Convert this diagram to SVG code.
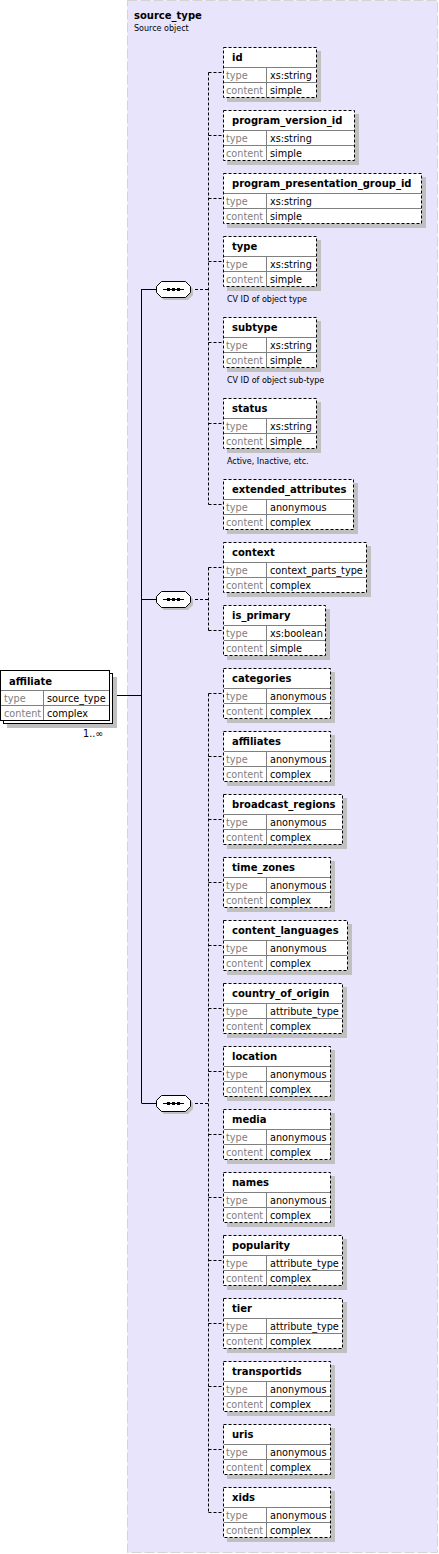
<svg xmlns="http://www.w3.org/2000/svg" width="439" height="1554" viewBox="0 0 439 1554">
<style>
text{font-family:"DejaVu Sans",Verdana,sans-serif;font-size:9.7px;fill:#000}
.t{font-weight:bold;font-size:10px}
.l{fill:#808080}
.d{font-size:8px}
.sh{fill:#c0c0c0}
.box{fill:#fff;stroke:none}
.sep{stroke:#808080;stroke-width:1;fill:none}
.dash{fill:none;stroke:#000;stroke-width:1;stroke-dasharray:3 2}
.cd{fill:none;stroke:#000;stroke-width:1;stroke-dasharray:3 2}
.cs{fill:none;stroke:#000;stroke-width:1}
</style>
<defs>
<g id="seq">
<polygon class="sh" points="8,-5 32,-5 37,0 37,6 32,11 8,11 3,6 3,0"/>
<polygon fill="#fff" stroke="#000" points="5.5,-7.5 29.5,-7.5 34.5,-2.5 34.5,3.5 29.5,8.5 5.5,8.5 0.5,3.5 0.5,-2.5"/>
<path d="M7 0.5H28" stroke="#000"/>
<rect x="11" y="-1" width="3" height="3"/>
<rect x="16" y="-1" width="3" height="3"/>
<rect x="21" y="-1" width="3" height="3"/>
</g>
</defs>
<rect x="127.5" y="0.5" width="310" height="1552" fill="#e8e4fc" stroke="#d4d4d4" stroke-dasharray="10 3"/>
<g id="source_type">
<text class="t" x="134" y="19">source_type</text>
<text class="d" x="134" y="31">Source object</text>
</g>
<g id="connectors">
<path class="cs" d="M109 695.5H141.5M141.5 289V1103M141.5 289.5H156M141.5 599.5H156M141.5 1103.5H156"/>
<path class="cd" d="M190 289.5H208.5M208.5 72.5V504.5"/>
<path class="cd" d="M208.5 72.5H223M208.5 135.5H223M208.5 198.5H223M208.5 261.5H223M208.5 342.5H223M208.5 423.5H223M208.5 504.5H223"/>
<path class="cd" d="M190 599.5H208.5M208.5 567.5V630.5M208.5 567.5H223M208.5 630.5H223"/>
<path class="cd" d="M190 1103.5H208.5M208.5 693.5V1512.5"/>
<path class="cd" d="M208.5 693.5H223M208.5 756.5H223M208.5 819.5H223M208.5 882.5H223M208.5 945.5H223M208.5 1008.5H223M208.5 1071.5H223M208.5 1134.5H223M208.5 1197.5H223M208.5 1260.5H223M208.5 1323.5H223M208.5 1386.5H223M208.5 1449.5H223M208.5 1512.5H223"/>
</g>
<g id="seq1"><use href="#seq" x="156" y="289"/></g>
<g id="seq2"><use href="#seq" x="156" y="599"/></g>
<g id="seq3"><use href="#seq" x="156" y="1103"/></g>
<g id="affiliate">
<rect class="sh" x="7" y="677" width="110" height="51"/>
<rect x="3.5" y="673.5" width="109" height="50" fill="#fff" stroke="#000"/>
<rect x="0.5" y="670.5" width="109" height="50" fill="#fff" stroke="#000"/>
<path class="sep" d="M1 690.5H109M1 705.5H109M43.5 691V720"/>
<text class="t" x="9" y="685">affiliate</text>
<text class="l" x="4" y="702">type</text>
<text x="47" y="702">source_type</text>
<text class="l" x="4" y="717">content</text>
<text x="47" y="717">complex</text>
<text x="83" y="737">1..∞</text>
</g>
<g id="n_id">
<rect class="sh" x="227" y="51" width="94" height="51"/>
<rect class="box" x="223.5" y="47.5" width="93" height="50"/>
<path class="sep" d="M224 67.5H316M224 82.5H316M266.5 68V97"/>
<rect class="dash" x="223.5" y="47.5" width="93" height="50"/>
<text class="t" x="232" y="61">id</text>
<text class="l" x="226" y="79">type</text><text x="270" y="79">xs:string</text>
<text class="l" x="226" y="94">content</text><text x="270" y="94">simple</text>
</g>
<g id="n_program_version_id">
<rect class="sh" x="227" y="114" width="132" height="51"/>
<rect class="box" x="223.5" y="110.5" width="131" height="50"/>
<path class="sep" d="M224 130.5H354M224 145.5H354M266.5 131V160"/>
<rect class="dash" x="223.5" y="110.5" width="131" height="50"/>
<text class="t" x="232" y="124">program_version_id</text>
<text class="l" x="226" y="142">type</text><text x="270" y="142">xs:string</text>
<text class="l" x="226" y="157">content</text><text x="270" y="157">simple</text>
</g>
<g id="n_program_presentation_group_id">
<rect class="sh" x="227" y="177" width="199" height="51"/>
<rect class="box" x="223.5" y="173.5" width="198" height="50"/>
<path class="sep" d="M224 193.5H421M224 208.5H421M266.5 194V223"/>
<rect class="dash" x="223.5" y="173.5" width="198" height="50"/>
<text class="t" x="232" y="187">program_presentation_group_id</text>
<text class="l" x="226" y="205">type</text><text x="270" y="205">xs:string</text>
<text class="l" x="226" y="220">content</text><text x="270" y="220">simple</text>
</g>
<g id="n_type">
<rect class="sh" x="227" y="240" width="94" height="51"/>
<rect class="box" x="223.5" y="236.5" width="93" height="50"/>
<path class="sep" d="M224 256.5H316M224 271.5H316M266.5 257V286"/>
<rect class="dash" x="223.5" y="236.5" width="93" height="50"/>
<text class="t" x="232" y="250">type</text>
<text class="l" x="226" y="268">type</text><text x="270" y="268">xs:string</text>
<text class="l" x="226" y="283">content</text><text x="270" y="283">simple</text>
<text class="d" x="227" y="302">CV ID of object type</text>
</g>
<g id="n_subtype">
<rect class="sh" x="227" y="321" width="94" height="51"/>
<rect class="box" x="223.5" y="317.5" width="93" height="50"/>
<path class="sep" d="M224 337.5H316M224 352.5H316M266.5 338V367"/>
<rect class="dash" x="223.5" y="317.5" width="93" height="50"/>
<text class="t" x="232" y="331">subtype</text>
<text class="l" x="226" y="349">type</text><text x="270" y="349">xs:string</text>
<text class="l" x="226" y="364">content</text><text x="270" y="364">simple</text>
<text class="d" x="227" y="383">CV ID of object sub-type</text>
</g>
<g id="n_status">
<rect class="sh" x="227" y="402" width="94" height="51"/>
<rect class="box" x="223.5" y="398.5" width="93" height="50"/>
<path class="sep" d="M224 418.5H316M224 433.5H316M266.5 419V448"/>
<rect class="dash" x="223.5" y="398.5" width="93" height="50"/>
<text class="t" x="232" y="412">status</text>
<text class="l" x="226" y="430">type</text><text x="270" y="430">xs:string</text>
<text class="l" x="226" y="445">content</text><text x="270" y="445">simple</text>
<text class="d" x="227" y="464">Active, Inactive, etc.</text>
</g>
<g id="n_extended_attributes">
<rect class="sh" x="227" y="483" width="131" height="51"/>
<rect class="box" x="223.5" y="479.5" width="130" height="50"/>
<path class="sep" d="M224 499.5H353M224 514.5H353M266.5 500V529"/>
<rect class="dash" x="223.5" y="479.5" width="130" height="50"/>
<text class="t" x="232" y="493">extended_attributes</text>
<text class="l" x="226" y="511">type</text><text x="270" y="511">anonymous</text>
<text class="l" x="226" y="526">content</text><text x="270" y="526">complex</text>
</g>
<g id="n_context">
<rect class="sh" x="227" y="546" width="144" height="51"/>
<rect class="box" x="223.5" y="542.5" width="143" height="50"/>
<path class="sep" d="M224 562.5H366M224 577.5H366M266.5 563V592"/>
<rect class="dash" x="223.5" y="542.5" width="143" height="50"/>
<text class="t" x="232" y="556">context</text>
<text class="l" x="226" y="574">type</text><text x="270" y="574">context_parts_type</text>
<text class="l" x="226" y="589">content</text><text x="270" y="589">complex</text>
</g>
<g id="n_is_primary">
<rect class="sh" x="227" y="609" width="103" height="51"/>
<rect class="box" x="223.5" y="605.5" width="102" height="50"/>
<path class="sep" d="M224 625.5H325M224 640.5H325M266.5 626V655"/>
<rect class="dash" x="223.5" y="605.5" width="102" height="50"/>
<text class="t" x="232" y="619">is_primary</text>
<text class="l" x="226" y="637">type</text><text x="270" y="637">xs:boolean</text>
<text class="l" x="226" y="652">content</text><text x="270" y="652">simple</text>
</g>
<g id="n_categories">
<rect class="sh" x="227" y="672" width="108" height="51"/>
<rect class="box" x="223.5" y="668.5" width="107" height="50"/>
<path class="sep" d="M224 688.5H330M224 703.5H330M266.5 689V718"/>
<rect class="dash" x="223.5" y="668.5" width="107" height="50"/>
<text class="t" x="232" y="682">categories</text>
<text class="l" x="226" y="700">type</text><text x="270" y="700">anonymous</text>
<text class="l" x="226" y="715">content</text><text x="270" y="715">complex</text>
</g>
<g id="n_affiliates">
<rect class="sh" x="227" y="735" width="108" height="51"/>
<rect class="box" x="223.5" y="731.5" width="107" height="50"/>
<path class="sep" d="M224 751.5H330M224 766.5H330M266.5 752V781"/>
<rect class="dash" x="223.5" y="731.5" width="107" height="50"/>
<text class="t" x="232" y="745">affiliates</text>
<text class="l" x="226" y="763">type</text><text x="270" y="763">anonymous</text>
<text class="l" x="226" y="778">content</text><text x="270" y="778">complex</text>
</g>
<g id="n_broadcast_regions">
<rect class="sh" x="227" y="798" width="120" height="51"/>
<rect class="box" x="223.5" y="794.5" width="119" height="50"/>
<path class="sep" d="M224 814.5H342M224 829.5H342M266.5 815V844"/>
<rect class="dash" x="223.5" y="794.5" width="119" height="50"/>
<text class="t" x="232" y="808">broadcast_regions</text>
<text class="l" x="226" y="826">type</text><text x="270" y="826">anonymous</text>
<text class="l" x="226" y="841">content</text><text x="270" y="841">complex</text>
</g>
<g id="n_time_zones">
<rect class="sh" x="227" y="861" width="108" height="51"/>
<rect class="box" x="223.5" y="857.5" width="107" height="50"/>
<path class="sep" d="M224 877.5H330M224 892.5H330M266.5 878V907"/>
<rect class="dash" x="223.5" y="857.5" width="107" height="50"/>
<text class="t" x="232" y="871">time_zones</text>
<text class="l" x="226" y="889">type</text><text x="270" y="889">anonymous</text>
<text class="l" x="226" y="904">content</text><text x="270" y="904">complex</text>
</g>
<g id="n_content_languages">
<rect class="sh" x="227" y="924" width="125" height="51"/>
<rect class="box" x="223.5" y="920.5" width="124" height="50"/>
<path class="sep" d="M224 940.5H347M224 955.5H347M266.5 941V970"/>
<rect class="dash" x="223.5" y="920.5" width="124" height="50"/>
<text class="t" x="232" y="934">content_languages</text>
<text class="l" x="226" y="952">type</text><text x="270" y="952">anonymous</text>
<text class="l" x="226" y="967">content</text><text x="270" y="967">complex</text>
</g>
<g id="n_country_of_origin">
<rect class="sh" x="227" y="987" width="120" height="51"/>
<rect class="box" x="223.5" y="983.5" width="119" height="50"/>
<path class="sep" d="M224 1003.5H342M224 1018.5H342M266.5 1004V1033"/>
<rect class="dash" x="223.5" y="983.5" width="119" height="50"/>
<text class="t" x="232" y="997">country_of_origin</text>
<text class="l" x="226" y="1015">type</text><text x="270" y="1015">attribute_type</text>
<text class="l" x="226" y="1030">content</text><text x="270" y="1030">complex</text>
</g>
<g id="n_location">
<rect class="sh" x="227" y="1050" width="108" height="51"/>
<rect class="box" x="223.5" y="1046.5" width="107" height="50"/>
<path class="sep" d="M224 1066.5H330M224 1081.5H330M266.5 1067V1096"/>
<rect class="dash" x="223.5" y="1046.5" width="107" height="50"/>
<text class="t" x="232" y="1060">location</text>
<text class="l" x="226" y="1078">type</text><text x="270" y="1078">anonymous</text>
<text class="l" x="226" y="1093">content</text><text x="270" y="1093">complex</text>
</g>
<g id="n_media">
<rect class="sh" x="227" y="1113" width="108" height="51"/>
<rect class="box" x="223.5" y="1109.5" width="107" height="50"/>
<path class="sep" d="M224 1129.5H330M224 1144.5H330M266.5 1130V1159"/>
<rect class="dash" x="223.5" y="1109.5" width="107" height="50"/>
<text class="t" x="232" y="1123">media</text>
<text class="l" x="226" y="1141">type</text><text x="270" y="1141">anonymous</text>
<text class="l" x="226" y="1156">content</text><text x="270" y="1156">complex</text>
</g>
<g id="n_names">
<rect class="sh" x="227" y="1176" width="108" height="51"/>
<rect class="box" x="223.5" y="1172.5" width="107" height="50"/>
<path class="sep" d="M224 1192.5H330M224 1207.5H330M266.5 1193V1222"/>
<rect class="dash" x="223.5" y="1172.5" width="107" height="50"/>
<text class="t" x="232" y="1186">names</text>
<text class="l" x="226" y="1204">type</text><text x="270" y="1204">anonymous</text>
<text class="l" x="226" y="1219">content</text><text x="270" y="1219">complex</text>
</g>
<g id="n_popularity">
<rect class="sh" x="227" y="1239" width="120" height="51"/>
<rect class="box" x="223.5" y="1235.5" width="119" height="50"/>
<path class="sep" d="M224 1255.5H342M224 1270.5H342M266.5 1256V1285"/>
<rect class="dash" x="223.5" y="1235.5" width="119" height="50"/>
<text class="t" x="232" y="1249">popularity</text>
<text class="l" x="226" y="1267">type</text><text x="270" y="1267">attribute_type</text>
<text class="l" x="226" y="1282">content</text><text x="270" y="1282">complex</text>
</g>
<g id="n_tier">
<rect class="sh" x="227" y="1302" width="120" height="51"/>
<rect class="box" x="223.5" y="1298.5" width="119" height="50"/>
<path class="sep" d="M224 1318.5H342M224 1333.5H342M266.5 1319V1348"/>
<rect class="dash" x="223.5" y="1298.5" width="119" height="50"/>
<text class="t" x="232" y="1312">tier</text>
<text class="l" x="226" y="1330">type</text><text x="270" y="1330">attribute_type</text>
<text class="l" x="226" y="1345">content</text><text x="270" y="1345">complex</text>
</g>
<g id="n_transportids">
<rect class="sh" x="227" y="1365" width="108" height="51"/>
<rect class="box" x="223.5" y="1361.5" width="107" height="50"/>
<path class="sep" d="M224 1381.5H330M224 1396.5H330M266.5 1382V1411"/>
<rect class="dash" x="223.5" y="1361.5" width="107" height="50"/>
<text class="t" x="232" y="1375">transportids</text>
<text class="l" x="226" y="1393">type</text><text x="270" y="1393">anonymous</text>
<text class="l" x="226" y="1408">content</text><text x="270" y="1408">complex</text>
</g>
<g id="n_uris">
<rect class="sh" x="227" y="1428" width="108" height="51"/>
<rect class="box" x="223.5" y="1424.5" width="107" height="50"/>
<path class="sep" d="M224 1444.5H330M224 1459.5H330M266.5 1445V1474"/>
<rect class="dash" x="223.5" y="1424.5" width="107" height="50"/>
<text class="t" x="232" y="1438">uris</text>
<text class="l" x="226" y="1456">type</text><text x="270" y="1456">anonymous</text>
<text class="l" x="226" y="1471">content</text><text x="270" y="1471">complex</text>
</g>
<g id="n_xids">
<rect class="sh" x="227" y="1491" width="108" height="51"/>
<rect class="box" x="223.5" y="1487.5" width="107" height="50"/>
<path class="sep" d="M224 1507.5H330M224 1522.5H330M266.5 1508V1537"/>
<rect class="dash" x="223.5" y="1487.5" width="107" height="50"/>
<text class="t" x="232" y="1501">xids</text>
<text class="l" x="226" y="1519">type</text><text x="270" y="1519">anonymous</text>
<text class="l" x="226" y="1534">content</text><text x="270" y="1534">complex</text>
</g>
</svg>
